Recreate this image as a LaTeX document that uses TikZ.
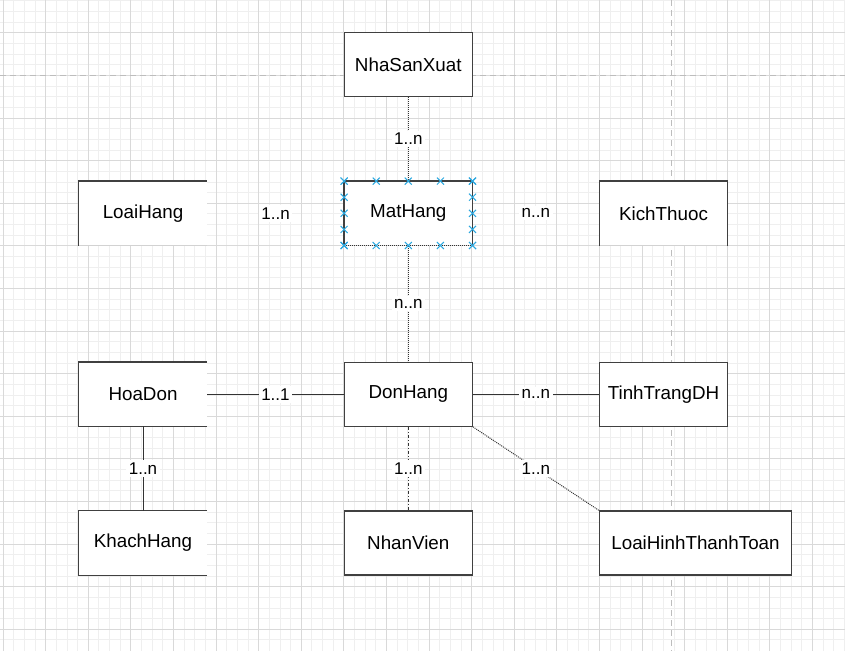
\documentclass[tikz,border=0pt]{standalone}
\usepackage{fontspec}
\setmainfont{Liberation Sans}
\usetikzlibrary{calc}
\definecolor{boxc}{HTML}{404040}
\definecolor{linec}{HTML}{333333}
\definecolor{minorg}{HTML}{EFEFEF}
\definecolor{majorg}{HTML}{D9D9D9}
\definecolor{pageg}{HTML}{BDBDBD}
\definecolor{selc}{HTML}{2BA8E0}
\tikzset{
  ent/.style={minimum width=128pt, minimum height=64pt, inner sep=0pt, fill=white,
              font=\fontsize{18.8}{20}\selectfont, text=black},
  entd/.style={ent, draw=boxc, line width=1.3pt},
  edge/.style={draw=boxc, line width=1.3pt},
  faint/.style={draw=gray!35, line width=1pt},
  solidc/.style={draw=linec, line width=1pt},
  dotc/.style={draw=linec, line width=1pt, dash pattern=on 1pt off 1pt},
  dashdotc/.style={draw=linec, line width=1pt, dash pattern=on 3pt off 2pt on 1pt off 2pt},
  card/.style={fill=white, inner sep=2.5pt, font=\fontsize{17}{19}\selectfont, text=black},
  minorgrid/.style={draw=minorg, line width=0.6pt},
  majorgrid/.style={draw=majorg, line width=0.8pt},
  pagebreak/.style={draw=pageg, line width=1pt, dash pattern=on 6pt off 4pt},
  selmark/.style={draw=selc, line width=1pt}
}
\begin{document}
\begin{tikzpicture}[x=1pt,y=-1pt]
\useasboundingbox (0,0) rectangle (845,651);
\fill[white] (0,0) rectangle (845,651);
% grid
\foreach \i in {0,...,79} \draw[minorgrid] ({2.9+10.65*\i},0) -- ({2.9+10.65*\i},651);
\foreach \j in {1,...,61} \draw[minorgrid] (0,{-9.9+10.65*\j}) -- (845,{-9.9+10.65*\j});
\foreach \i in {0,...,19} \draw[majorgrid] ({2.9+42.6*\i},0) -- ({2.9+42.6*\i},651);
\foreach \j in {1,...,15} \draw[majorgrid] (0,{-9.9+42.6*\j}) -- (845,{-9.9+42.6*\j});
\draw[pagebreak] (0,75.3) -- (845,75.3);
\draw[pagebreak] (671.5,0) -- (671.5,651);

% entities
\node[entd] (nsx) at (408.3,64.3) {NhaSanXuat};
\node[ent] (mat) at (408.3,213.3) {MatHang};
\node[ent] (loai) at (143,213.3) {LoaiHang};
\node[ent] (kich) at (663.5,213.3) {KichThuoc};
\node[ent] (hoa) at (143,394.2) {HoaDon};
\node[entd] (don) at (408.3,394.2) {DonHang};
\node[entd] (tinh) at (663.5,394.2) {TinhTrangDH};
\node[ent] (khach) at (143,543) {KhachHang};
\node[entd] (nhan) at (408.3,543) {NhanVien};
\node[entd, minimum width=192pt] (lhtt) at (695.5,543) {LoaiHinhThanhToan};

% partial borders
\draw[faint] (loai.south west) -- (loai.south east);
\draw[edge] (loai.south west) -- (loai.north west) -- (loai.north east);
\draw[faint] (kich.south west) -- (kich.south east);
\draw[edge] (kich.south west) -- (kich.north west) -- (kich.north east) -- (kich.south east);
\draw[edge] (hoa.north east) -- (hoa.north west) -- (hoa.south west) -- (hoa.south east);
\draw[edge] (khach.north east) -- (khach.north west) -- (khach.south west) -- (khach.south east);
\draw[edge] (mat.south west) -- (mat.north west) -- (mat.north east) -- (mat.south east);
\draw[dotc] (mat.south west) -- (mat.south east);

% connectors
\draw[dotc] (nsx.south) -- node[card] {1..n} (mat.north);
\draw[dotc] (mat.south) -- node[card] {n..n} (don.north);
\draw[solidc] (hoa.east) -- node[card] {1..1} (don.west);
\draw[solidc] (don.east) -- node[card] {n..n} (tinh.west);
\draw[solidc] (hoa.south) -- node[card] {1..n} (khach.north);
\draw[dashdotc] (don.south) -- node[card] {1..n} (nhan.north);
\draw[dotc] (don.south east) -- node[card] {1..n} (lhtt.north west);
\node[card] (c1) at ($(loai.east)!0.5!(mat.west)$) {1..n};
\node[card] (c2) at ($(mat.east)!0.5!(kich.west)$) {n..n};

% selection markers on MatHang
\foreach \t in {0,0.25,0.5,0.75,1} {
  \foreach \a/\b in {north west/north east, south west/south east, north west/south west, north east/south east} {
    \coordinate (m) at ($(mat.\a)!\t!(mat.\b)$);
    \draw[selmark] ($(m)+(-3.5,-3.5)$) -- ($(m)+(3.5,3.5)$) ($(m)+(-3.5,3.5)$) -- ($(m)+(3.5,-3.5)$);
  }
}
\end{tikzpicture}
\end{document}
